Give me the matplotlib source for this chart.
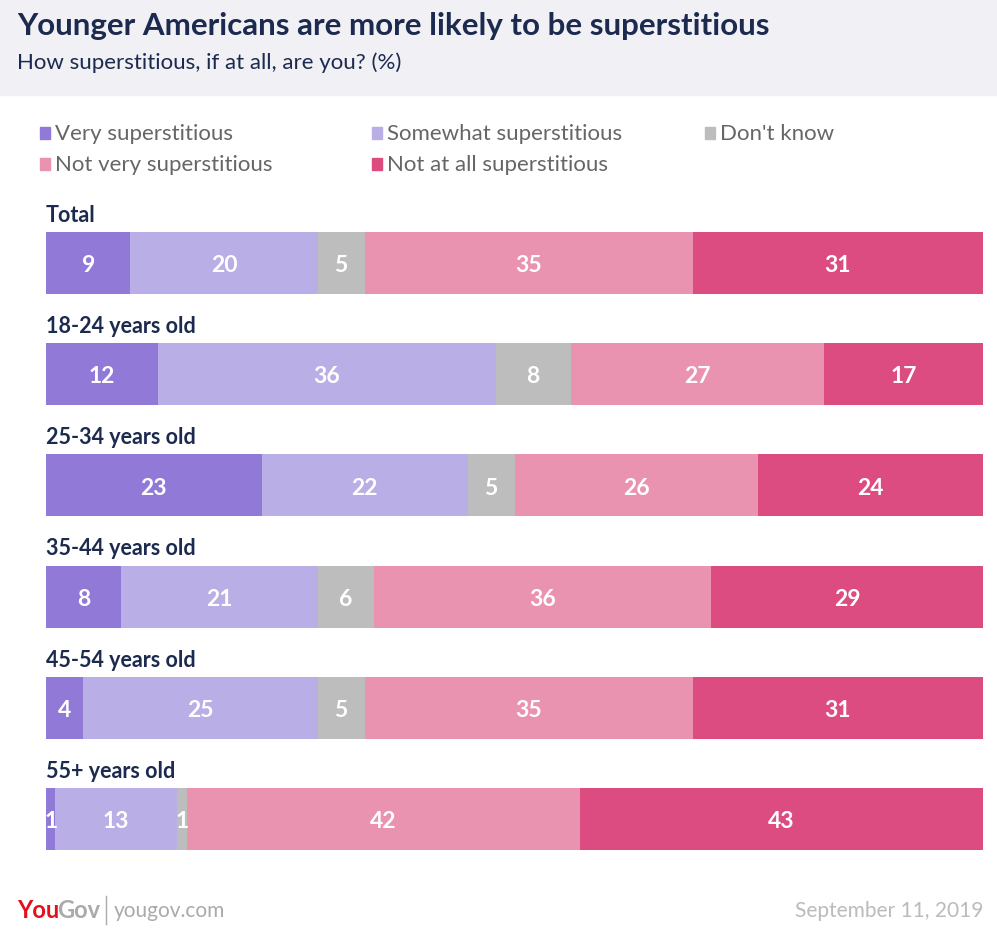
import matplotlib.pyplot as plt
import numpy as np

# data
groups = ["Total", "18-24 years old", "25-34 years old", "35-44 years old",
          "45-54 years old", "55+ years old"]
answers = ["Very superstitious", "Somewhat superstitious", "Don't know",
           "Not very superstitious", "Not at all superstitious"]
very = [9, 12, 23, 8, 4, 1]
somewhat = [20, 36, 22, 21, 25, 13]
dont_know = [5, 8, 5, 6, 5, 1]
not_very = [35, 27, 26, 36, 35, 42]
not_at_all = [31, 17, 24, 29, 31, 43]

colors = ["#9179d7", "#b9aee6", "#bdbdbd", "#e993b0", "#dd4c80"]
navy = "#1b2a4e"
W, H = 997, 931

plt.rcParams['font.family'] = ['Lato', 'DejaVu Sans']
fig = plt.figure(figsize=(W / 100, H / 100), dpi=100)

# background / header layer in pixel coords
bg = fig.add_axes([0, 0, 1, 1])
bg.set_xlim(0, W)
bg.set_ylim(H, 0)
bg.axis('off')
bg.add_patch(plt.Rectangle((0, 0), W, 95, color="#f0f0f5", zorder=0))
bg.text(17, 26, "Younger Americans are more likely to be superstitious",
        fontsize=22.5, fontweight='bold', color=navy, va='center')
bg.text(17, 63, "How superstitious, if at all, are you? (%)",
        fontsize=16, color=navy, va='center')

# legend
leg_pos = [(40, 134), (372, 134), (705, 134), (40, 165), (372, 165)]
for (lx, ly), lab, c in zip(leg_pos, answers, colors):
    bg.add_patch(plt.Rectangle((lx, ly - 7), 10, 12, color=c))
    bg.text(lx + 15, ly, lab, fontsize=16, color="#666666", va='center')

# footer
bg.text(17, 911, "You", fontsize=17, fontweight='bold', color="#e3101c", va='center')
bg.text(57, 911, "Gov", fontsize=17, fontweight='bold', color="#aaaaaa", va='center')
bg.plot([106, 106], [896, 924], color="#aaaaaa", lw=1)
bg.text(114, 911, "yougov.com", fontsize=15, color="#aaaaaa", va='center')
bg.text(983, 911, "September 11, 2019", fontsize=15,
        color="#bbbbbb", va='center', ha='right')

# bars
bh = 0.558
ax = fig.add_axes([46 / W, (H - 850) / H, (983 - 46) / W, (850 - 232) / H])
ax.set_xlim(0, 100)
ax.set_ylim(len(groups) - 1 + bh / 2, -bh / 2)
ax.axis('off')

series = [very, somewhat, dont_know, not_very, not_at_all]
y = np.arange(len(groups))
left = np.zeros(len(groups))
for vals, c in zip(series, colors):
    vals = np.array(vals)
    ax.barh(y, vals, left=left, height=bh, color=c, edgecolor='none')
    for yi, l, v in zip(y, left, vals):
        ax.text(l + v / 2, yi + 0.025, str(v), ha='center', va='center', color='white',
                fontsize=16.5, fontweight='bold')
    left += vals

for yi, g in zip(y, groups):
    ax.text(0, yi - bh / 2 - 0.15, g, ha='left', va='center', color=navy,
            fontsize=15.5, fontweight='bold')

fig.savefig("out.png", dpi=100)
